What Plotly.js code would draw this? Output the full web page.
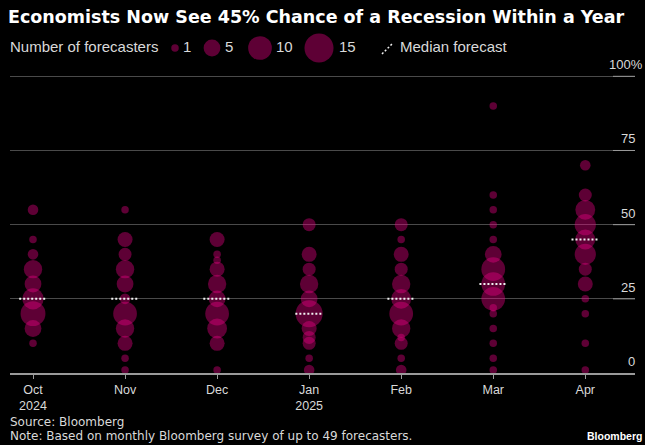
<!DOCTYPE html>
<html><head><meta charset="utf-8">
<script src="https://cdn.plot.ly/plotly-3.0.1.min.js"></script>
<style>html,body{margin:0;padding:0;background:#000;}#chart{width:645px;height:445px;}</style>
</head><body><div id="chart"></div>
<script>
// ---- data ----
const months = ['Oct<br>2024','Nov','Dec','Jan<br>2025','Feb','Mar','Apr'];
const octValues = [55,45,40,35,30,25,20,15,10];
const octCounts = [2,1,2,6,5,8,11,5,1];
const novValues = [55,45,40,35,30,25,20,15,10,5,1];
const novCounts = [1,4,3,6,5,2,10,6,4,1,1];
const decValues = [45,40,38,35,30,25,20,15,10,1];
const decCounts = [4,1,1,4,6,5,10,7,4,1];
const janValues = [50,40,35,30,25,20,15,12,10,5,1];
const janCounts = [3,4,3,6,5,13,4,3,3,1,2];
const febValues = [50,45,40,35,30,25,20,15,12,10,5,1];
const febCounts = [3,1,4,3,6,7,10,6,1,3,1,2];
const marValues = [90,60,55,50,45,40,35,30,25,22,20,15,10,5,1];
const marCounts = [1,1,1,1,1,5,10,10,10,1,1,1,1,1,1];
const aprValues = [70,60,55,50,45,40,35,30,25,20,10,1];
const aprCounts = [2,3,7,8,7,8,3,4,1,1,1,1];
const medians = [25,25,25,20,25,30,45];
const yTickVals = [0,25,50,75,100];
const yTickText = ['0','25','50','75','100%'];
const legendSizes = [1,5,10,15];
const legendLabels = ['1','5','10','15'];

// ---- layout helpers ----
const W = 645, H = 445;
const px = x => x / W, py = y => 1 - y / H;
const BUBBLE = 'rgba(240,0,135,0.56)';
const SIZEREF = 2 / 56.25;
const GRID = '#4a4a4a', AXIS = '#9a9a9a', TXT = '#d9d9d9';
const SANS = 'Liberation Sans, Arial';

const monthValues = [octValues, novValues, decValues, janValues, febValues, marValues, aprValues];
const monthCounts = [octCounts, novCounts, decCounts, janCounts, febCounts, marCounts, aprCounts];
const bx = [], by = [], bs = [];
monthValues.forEach((vals, i) => vals.forEach((v, j) => { bx.push(i); by.push(v); bs.push(monthCounts[i][j]); }));

const mx = [], my = [];
medians.forEach((m, i) => { mx.push(i - 0.15, i + 0.15, null); my.push(m, m, null); });

const legendX = [175, 212, 260, 319];
const legendLabelX = [182, 224, 275, 338];
const legendY = 48;

const traces = [
  { type: 'scatter', mode: 'markers', x: bx, y: by, cliponaxis: false, hoverinfo: 'skip',
    marker: { size: bs, sizemode: 'area', sizeref: SIZEREF, color: BUBBLE, line: { width: 0 } } },
  { type: 'scatter', mode: 'lines', x: mx, y: my, hoverinfo: 'skip',
    line: { color: '#f2f2f2', width: 2, dash: '2px,2px' } },
  { type: 'scatter', mode: 'markers', x: legendX, y: legendSizes.map(() => legendY), xaxis: 'x2', yaxis: 'y2',
    cliponaxis: false, hoverinfo: 'skip',
    marker: { size: legendSizes, sizemode: 'area', sizeref: SIZEREF, color: BUBBLE, line: { width: 0 } } },
  { type: 'scatter', mode: 'lines', x: [382, 393], y: [54, 43], xaxis: 'x2', yaxis: 'y2', hoverinfo: 'skip',
    line: { color: '#f2f2f2', width: 1.5, dash: '2px,2px' } }
];

const annotations = [];
const ann = (text, x, y, xa, ya, font) => annotations.push({ text, x: px(x), y: py(y), xref: 'paper', yref: 'paper',
  xanchor: xa, yanchor: ya, showarrow: false, font, borderpad: 0 });

ann('<b>Economists Now See 45% Chance of a Recession Within a Year</b>', 7, 17, 'left', 'middle',
  { family: 'DejaVu Sans', size: 17.5, color: '#ffffff' });
ann('Number of forecasters', 9, 47, 'left', 'middle', { family: SANS, size: 15, color: TXT });
legendLabels.forEach((t, i) => ann(t, legendLabelX[i], 47, 'left', 'middle', { family: SANS, size: 15, color: TXT }));
ann('Median forecast', 399, 47, 'left', 'middle', { family: SANS, size: 15, color: TXT });
ann('Source: Bloomberg', 9, 422, 'left', 'middle', { family: 'DejaVu Sans', size: 12, color: TXT });
ann('Note: Based on monthly Bloomberg survey of up to 49 forecasters.', 9, 436, 'left', 'middle', { family: 'DejaVu Sans', size: 12, color: TXT });
ann('<b>Bloomberg</b>', 643, 436, 'right', 'middle', { family: SANS, size: 10.5, color: '#ffffff' });

yTickVals.forEach((v, i) => {
  const pct = yTickText[i].endsWith('%');
  annotations.push({ text: yTickText[i], x: px(pct ? 644 : 636), y: v, xref: 'paper', yref: 'y', xanchor: 'right', yanchor: 'bottom',
    yshift: 3, showarrow: false, borderpad: 0, font: { family: SANS, size: 13, color: TXT } });
});

const shapes = yTickVals.filter(v => v > 0).map(v => ({ type: 'line', xref: 'paper', yref: 'y', x0: px(613), x1: px(635), y0: v, y1: v,
  line: { color: AXIS, width: 1 } }));

const layout = {
  width: W, height: H, margin: { l: 0, r: 0, t: 0, b: 0 },
  paper_bgcolor: '#000', plot_bgcolor: 'rgba(0,0,0,0)', showlegend: false,
  xaxis: { domain: [px(10), px(635)], range: [-0.25, 6.54], tickvals: months.map((m, i) => i), ticktext: months,
    showgrid: false, zeroline: false, showline: true, linecolor: AXIS, linewidth: 1.5,
    ticks: 'outside', ticklen: 4, tickcolor: AXIS, tickwidth: 1, automargin: false,
    tickfont: { family: SANS, size: 12.5, color: TXT }, fixedrange: true },
  yaxis: { domain: [py(373), py(60)], range: [0, 105.5], tickvals: yTickVals.filter(v => v > 0), showticklabels: false,
    showgrid: true, gridcolor: GRID, gridwidth: 1, zeroline: false, showline: false, ticks: '', automargin: false, fixedrange: true },
  xaxis2: { domain: [0, 1], range: [0, W], visible: false, anchor: 'y2', fixedrange: true },
  yaxis2: { domain: [0, 1], range: [H, 0], visible: false, anchor: 'x2', fixedrange: true },
  annotations, shapes
};

Plotly.newPlot('chart', traces, layout, { displayModeBar: false, staticPlot: true });
</script></body></html>
